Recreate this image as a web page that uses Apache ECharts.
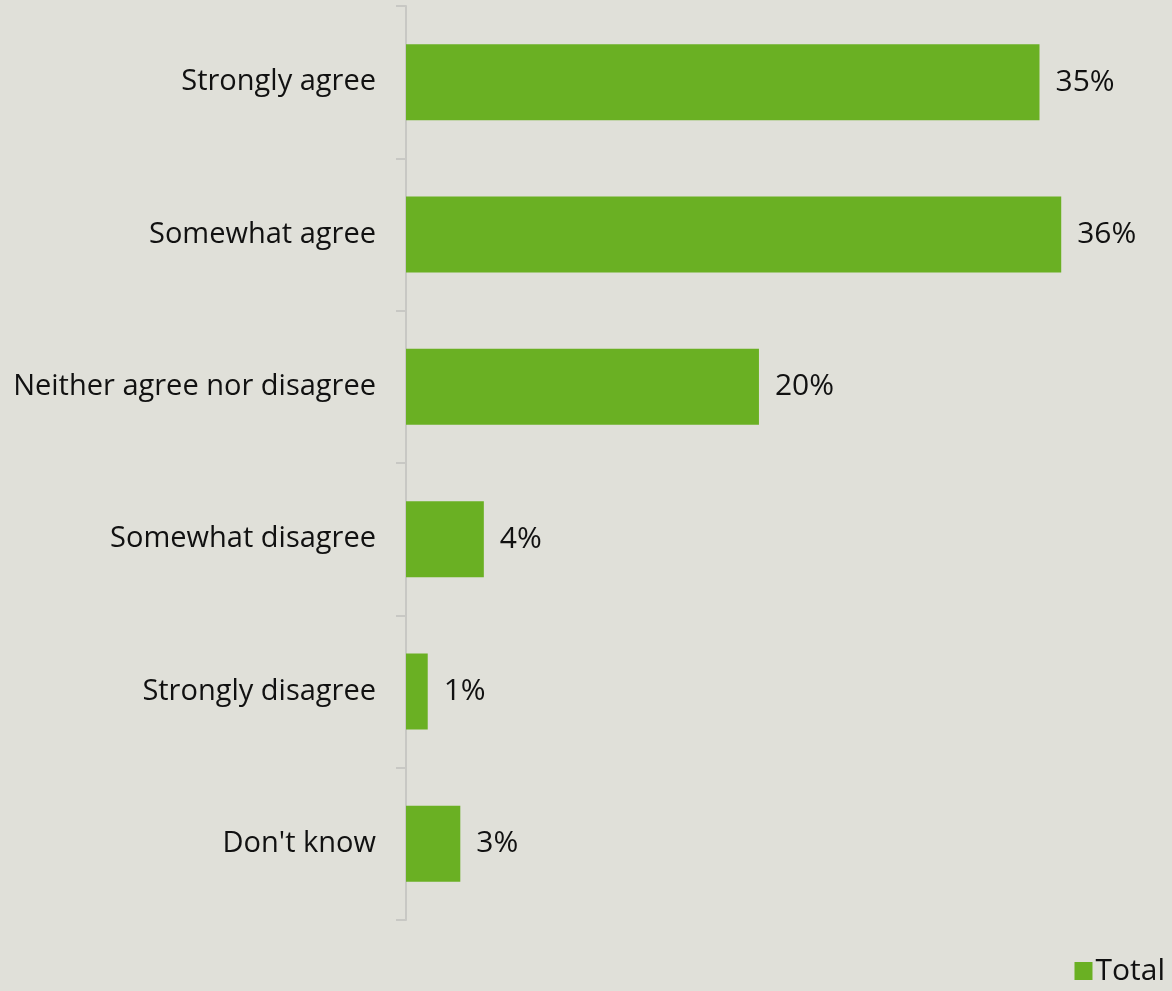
<!DOCTYPE html>
<html>
<head>
<meta charset="utf-8">
<script src="https://cdn.jsdelivr.net/npm/echarts@6/dist/echarts.min.js"></script>
<style>
html,body{margin:0;padding:0;background:#e0e0d9;}
#c{width:1172px;height:991px;}
</style>
</head>
<body>
<div id="c"></div>
<script>
const categories = ["Strongly agree","Somewhat agree","Neither agree nor disagree","Somewhat disagree","Strongly disagree","Don't know"];
const totalValues = [35.0, 36.2, 19.5, 4.3, 1.2, 3.0];
const seriesName = "Total";

const FONT = 'Open Sans';
const chart = echarts.init(document.getElementById('c'));
chart.setOption({
  backgroundColor: '#e0e0d9',
  animation: false,
  textStyle: { fontFamily: FONT },
  grid: { left: 406, right: 42, top: 6, bottom: 71, containLabel: false },
  legend: {
    data: [seriesName],
    right: 2, bottom: 0,
    itemWidth: 18, itemHeight: 18, itemGap: 6,
    icon: 'rect',
    textStyle: { fontSize: 30, color: '#111', fontFamily: FONT, padding: [0,0,0,-2] }
  },
  xAxis: {
    type: 'value', min: 0, max: 40, show: false
  },
  yAxis: {
    type: 'category', data: categories, inverse: true,
    axisLine: { show: true, lineStyle: { color: '#c8c8c4', width: 2 } },
    axisTick: { show: true, length: 10, lineStyle: { color: '#c8c8c4', width: 2 } },
    axisLabel: { margin: 30, fontSize: 29, color: '#111', fontFamily: FONT, padding: [3,0,0,0] },
    splitLine: { show: false }
  },
  series: [{
    name: seriesName,
    type: 'bar',
    data: totalValues,
    barWidth: 76,
    itemStyle: { color: '#6ab023' },
    label: {
      show: true, position: 'right', distance: 16,
      fontSize: 30, color: '#111', fontFamily: FONT, padding: [3,0,0,0],
      formatter: p => Math.round(p.value) + '%'
    }
  }]
});
</script>
</body>
</html>
